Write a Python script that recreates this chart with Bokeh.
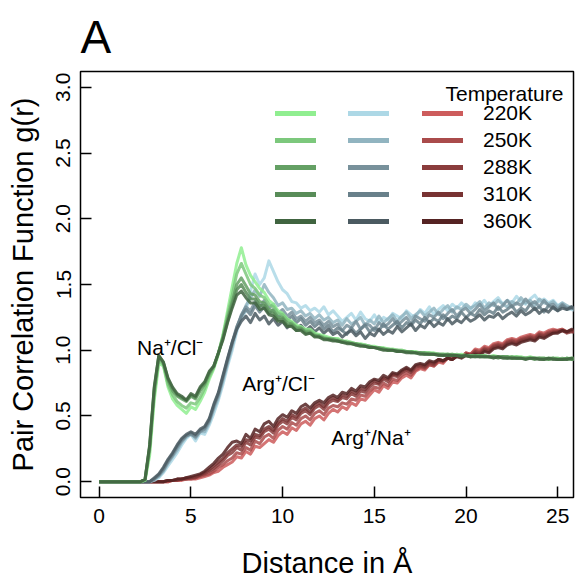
import numpy as np
from bokeh.plotting import figure
from bokeh.models import Range1d, FixedTicker, Legend, LegendItem, Label, ColumnDataSource
from bokeh.embed import file_html
from bokeh.resources import INLINE

FONT = "Liberation Sans"

# distance grid (Angstrom), 0.25 spacing
R = [round(i * 0.25, 2) for i in range(105)]

TEMPS = ["220K", "250K", "288K", "310K", "360K"]

# Na+/Cl- pair correlation
NC220 = [0,0,0,0,0,0,0,0,0,0,
 0.01,0.20,0.62,0.90,0.88,0.72,0.63,0.58,0.55,0.52,
 0.57,0.55,0.61,0.68,0.78,0.86,0.97,1.12,1.30,1.48,
 1.66,1.78,1.65,1.57,1.52,1.47,1.44,1.38,1.35,1.30,
 1.28,1.24,1.22,1.19,1.18,1.16,1.16,1.13,1.12,1.11,
 1.10,1.09,1.09,1.07,1.07,1.06,1.05,1.05,1.04,1.03,
 1.03,1.02,1.02,1.01,1.01,1.00,1.00,0.99,0.99,0.99,
 0.98,0.98,0.98,0.98,0.97,0.97,0.97,0.97,0.96,0.97,
 0.96,0.96,0.96,0.96,0.96,0.95,0.96,0.95,0.95,0.95,
 0.95,0.95,0.95,0.94,0.95,0.94,0.94,0.94,0.94,0.94,
 0.94,0.93,0.94,0.94,0.94]
NC250 = [0,0,0,0,0,0,0,0,0,0,
 0.01,0.24,0.66,0.93,0.89,0.74,0.66,0.61,0.58,0.56,
 0.60,0.59,0.64,0.71,0.80,0.87,0.98,1.11,1.27,1.42,
 1.58,1.66,1.58,1.50,1.47,1.42,1.40,1.35,1.33,1.28,
 1.27,1.23,1.21,1.18,1.17,1.15,1.15,1.12,1.11,1.10,
 1.09,1.09,1.08,1.07,1.06,1.06,1.05,1.04,1.04,1.03,
 1.02,1.02,1.01,1.01,1.00,1.00,1.00,0.99,0.99,0.98,
 0.98,0.98,0.98,0.97,0.97,0.97,0.97,0.96,0.97,0.96,
 0.96,0.96,0.96,0.95,0.96,0.95,0.95,0.95,0.95,0.95,
 0.94,0.95,0.94,0.94,0.94,0.94,0.94,0.94,0.93,0.94,
 0.94,0.93,0.94,0.93,0.93]
NC288 = [0,0,0,0,0,0,0,0,0,0,
 0.02,0.26,0.69,0.95,0.90,0.77,0.69,0.65,0.63,0.61,
 0.65,0.63,0.69,0.74,0.82,0.88,0.98,1.10,1.24,1.37,
 1.50,1.55,1.49,1.43,1.42,1.37,1.36,1.31,1.30,1.25,
 1.25,1.21,1.20,1.17,1.17,1.14,1.14,1.11,1.11,1.09,
 1.09,1.08,1.07,1.07,1.06,1.05,1.05,1.04,1.03,1.03,
 1.02,1.02,1.01,1.00,1.00,1.00,0.99,0.99,0.99,0.98,
 0.98,0.98,0.97,0.97,0.97,0.97,0.96,0.97,0.96,0.96,
 0.96,0.96,0.95,0.96,0.95,0.95,0.95,0.95,0.95,0.94,
 0.95,0.94,0.94,0.94,0.94,0.94,0.94,0.93,0.94,0.94,
 0.93,0.94,0.93,0.94,0.94]
NC310 = [0,0,0,0,0,0,0,0,0,0,
 0.02,0.27,0.71,0.96,0.91,0.78,0.71,0.66,0.64,0.62,
 0.66,0.64,0.71,0.75,0.83,0.88,0.98,1.09,1.22,1.34,
 1.46,1.50,1.44,1.39,1.39,1.34,1.34,1.29,1.28,1.23,
 1.24,1.19,1.19,1.15,1.16,1.13,1.13,1.11,1.10,1.09,
 1.08,1.08,1.07,1.06,1.06,1.05,1.04,1.04,1.03,1.02,
 1.02,1.01,1.01,1.00,1.00,0.99,0.99,0.99,0.98,0.98,
 0.98,0.97,0.97,0.97,0.97,0.96,0.97,0.96,0.96,0.96,
 0.96,0.95,0.96,0.95,0.95,0.95,0.95,0.94,0.95,0.95,
 0.94,0.94,0.94,0.94,0.94,0.93,0.94,0.94,0.93,0.94,
 0.93,0.93,0.94,0.93,0.93]
NC360 = [0,0,0,0,0,0,0,0,0,0,
 0.02,0.28,0.72,0.96,0.91,0.79,0.72,0.67,0.65,0.62,
 0.67,0.65,0.72,0.76,0.84,0.88,0.98,1.08,1.21,1.32,
 1.42,1.45,1.40,1.36,1.36,1.31,1.32,1.27,1.26,1.22,
 1.22,1.18,1.18,1.15,1.15,1.12,1.13,1.10,1.10,1.08,
 1.08,1.07,1.07,1.06,1.05,1.05,1.04,1.03,1.03,1.02,
 1.02,1.01,1.00,1.00,1.00,0.99,0.99,0.98,0.98,0.98,
 0.97,0.97,0.97,0.97,0.96,0.96,0.96,0.96,0.96,0.95,
 0.96,0.95,0.95,0.95,0.95,0.95,0.94,0.95,0.94,0.94,
 0.94,0.94,0.94,0.93,0.94,0.94,0.93,0.93,0.94,0.93,
 0.93,0.93,0.93,0.94,0.93]

# Arg+/Cl- pair correlation
AC220 = [0,0,0,0,0,0,0,0,0,0,
 0,0,0.01,0.03,0.07,0.12,0.17,0.22,0.28,0.33,
 0.36,0.31,0.37,0.36,0.43,0.52,0.62,0.74,0.88,1.00,
 1.14,1.25,1.30,1.45,1.58,1.50,1.55,1.68,1.60,1.52,
 1.46,1.43,1.37,1.36,1.32,1.34,1.30,1.32,1.29,1.33,
 1.27,1.30,1.26,1.22,1.25,1.28,1.23,1.29,1.24,1.22,
 1.27,1.21,1.25,1.23,1.28,1.26,1.24,1.30,1.27,1.25,
 1.31,1.28,1.33,1.27,1.31,1.34,1.30,1.35,1.32,1.36,
 1.33,1.31,1.36,1.34,1.38,1.33,1.37,1.40,1.35,1.38,
 1.36,1.41,1.37,1.35,1.39,1.42,1.37,1.39,1.36,1.38,
 1.34,1.36,1.32,1.31,1.30]
AC250 = [0,0,0,0,0,0,0,0,0,0,
 0,0,0.02,0.04,0.08,0.14,0.19,0.24,0.30,0.34,
 0.37,0.33,0.38,0.38,0.45,0.55,0.64,0.77,0.90,1.03,
 1.16,1.26,1.34,1.40,1.46,1.41,1.50,1.44,1.40,1.34,
 1.36,1.31,1.32,1.28,1.30,1.26,1.28,1.24,1.27,1.23,
 1.25,1.21,1.23,1.19,1.24,1.20,1.22,1.25,1.19,1.23,
 1.20,1.26,1.21,1.24,1.27,1.22,1.26,1.29,1.24,1.27,
 1.30,1.26,1.29,1.32,1.27,1.31,1.34,1.29,1.33,1.31,
 1.35,1.32,1.34,1.37,1.32,1.36,1.34,1.38,1.35,1.33,
 1.37,1.35,1.40,1.36,1.38,1.34,1.39,1.36,1.35,1.37,
 1.33,1.36,1.34,1.32,1.31]
AC288 = [0,0,0,0,0,0,0,0,0,0,
 0,0,0.02,0.05,0.09,0.15,0.20,0.26,0.31,0.35,
 0.36,0.34,0.38,0.40,0.46,0.57,0.66,0.79,0.92,1.05,
 1.17,1.27,1.33,1.30,1.37,1.33,1.38,1.32,1.35,1.28,
 1.31,1.26,1.29,1.24,1.26,1.22,1.25,1.21,1.23,1.19,
 1.22,1.18,1.20,1.15,1.19,1.17,1.22,1.16,1.20,1.19,
 1.15,1.21,1.18,1.20,1.24,1.19,1.22,1.25,1.20,1.26,
 1.24,1.22,1.27,1.25,1.29,1.24,1.28,1.31,1.26,1.30,
 1.32,1.28,1.31,1.35,1.30,1.33,1.36,1.31,1.34,1.38,
 1.33,1.36,1.34,1.39,1.35,1.37,1.33,1.38,1.34,1.35,
 1.31,1.35,1.32,1.33,1.32]
AC310 = [0,0,0,0,0,0,0,0,0,0,
 0,0,0.02,0.05,0.10,0.16,0.21,0.27,0.32,0.35,
 0.37,0.35,0.39,0.41,0.47,0.58,0.67,0.80,0.93,1.06,
 1.18,1.26,1.31,1.27,1.34,1.29,1.33,1.28,1.31,1.25,
 1.28,1.23,1.26,1.21,1.24,1.19,1.22,1.18,1.21,1.16,
 1.19,1.14,1.17,1.15,1.12,1.17,1.13,1.16,1.19,1.14,
 1.17,1.15,1.20,1.16,1.19,1.22,1.17,1.21,1.19,1.23,
 1.20,1.25,1.21,1.24,1.22,1.27,1.23,1.26,1.24,1.29,
 1.25,1.28,1.26,1.31,1.27,1.30,1.28,1.33,1.29,1.31,
 1.34,1.29,1.32,1.30,1.35,1.31,1.33,1.29,1.34,1.32,
 1.30,1.34,1.31,1.32,1.31]
AC360 = [0,0,0,0,0,0,0,0,0,0,
 0,0,0.03,0.06,0.11,0.17,0.22,0.28,0.33,0.36,
 0.38,0.36,0.40,0.42,0.48,0.59,0.68,0.81,0.94,1.06,
 1.16,1.22,1.26,1.21,1.28,1.23,1.26,1.20,1.24,1.19,
 1.22,1.17,1.21,1.16,1.19,1.15,1.18,1.14,1.17,1.13,
 1.16,1.12,1.14,1.10,1.13,1.15,1.11,1.14,1.09,1.13,
 1.11,1.16,1.12,1.15,1.13,1.18,1.14,1.17,1.20,1.15,
 1.19,1.17,1.22,1.18,1.21,1.19,1.24,1.20,1.23,1.21,
 1.25,1.22,1.24,1.27,1.23,1.26,1.25,1.28,1.24,1.27,
 1.29,1.26,1.30,1.27,1.29,1.32,1.28,1.31,1.29,1.33,
 1.30,1.32,1.31,1.33,1.31]

# Arg+/Na+ pair correlation
AN220 = [0,0,0,0,0,0,0,0,0,0,
 0,0,0,0,0.00,0.00,0.01,0.01,0.01,0.02,
 0.02,0.02,0.03,0.04,0.05,0.07,0.08,0.11,0.13,0.15,
 0.19,0.18,0.23,0.21,0.27,0.26,0.29,0.32,0.30,0.35,
 0.38,0.36,0.41,0.39,0.44,0.46,0.43,0.48,0.50,0.47,
 0.52,0.55,0.53,0.57,0.55,0.60,0.58,0.63,0.62,0.66,
 0.70,0.68,0.73,0.71,0.76,0.75,0.79,0.81,0.79,0.84,
 0.86,0.85,0.89,0.88,0.91,0.90,0.94,0.93,0.96,0.95,
 0.98,0.97,1.01,1.00,1.03,1.02,1.05,1.06,1.05,1.08,
 1.09,1.08,1.10,1.11,1.12,1.11,1.14,1.13,1.15,1.16,
 1.15,1.16,1.14,1.15,1.14]
AN250 = [0,0,0,0,0,0,0,0,0,0,
 0,0,0,0,0.00,0.00,0.01,0.01,0.02,0.02,
 0.02,0.03,0.04,0.05,0.06,0.08,0.11,0.13,0.16,0.18,
 0.22,0.21,0.26,0.24,0.31,0.29,0.34,0.36,0.33,0.39,
 0.42,0.40,0.45,0.43,0.48,0.50,0.47,0.52,0.54,0.51,
 0.56,0.58,0.57,0.60,0.59,0.63,0.62,0.66,0.65,0.69,
 0.72,0.71,0.75,0.73,0.78,0.77,0.81,0.83,0.81,0.85,
 0.87,0.86,0.89,0.88,0.92,0.91,0.94,0.93,0.96,0.95,
 0.98,0.97,1.00,0.99,1.02,1.01,1.04,1.05,1.04,1.07,
 1.08,1.07,1.09,1.10,1.11,1.10,1.13,1.12,1.14,1.15,
 1.15,1.16,1.14,1.15,1.13]
AN288 = [0,0,0,0,0,0,0,0,0,0,
 0,0,0,0,0.00,0.01,0.01,0.01,0.02,0.02,
 0.03,0.03,0.05,0.06,0.08,0.10,0.13,0.16,0.20,0.22,
 0.26,0.24,0.30,0.28,0.34,0.33,0.38,0.40,0.37,0.43,
 0.46,0.44,0.49,0.47,0.52,0.54,0.51,0.56,0.58,0.55,
 0.60,0.62,0.61,0.64,0.63,0.67,0.65,0.69,0.68,0.72,
 0.75,0.74,0.78,0.76,0.81,0.80,0.83,0.85,0.83,0.87,
 0.88,0.87,0.90,0.89,0.93,0.92,0.94,0.93,0.96,0.95,
 0.97,0.96,0.99,0.98,1.01,1.00,1.03,1.04,1.03,1.06,
 1.07,1.06,1.08,1.09,1.10,1.09,1.12,1.11,1.13,1.14,
 1.14,1.15,1.13,1.14,1.13]
AN310 = [0,0,0,0,0,0,0,0,0,0,
 0,0,0,0,0.00,0.01,0.01,0.02,0.02,0.03,
 0.03,0.04,0.05,0.07,0.09,0.12,0.15,0.18,0.22,0.25,
 0.28,0.27,0.32,0.31,0.36,0.35,0.40,0.42,0.39,0.45,
 0.48,0.46,0.51,0.49,0.54,0.56,0.53,0.58,0.60,0.57,
 0.62,0.64,0.62,0.66,0.65,0.69,0.67,0.71,0.70,0.74,
 0.77,0.75,0.79,0.78,0.82,0.81,0.84,0.86,0.84,0.88,
 0.89,0.88,0.91,0.90,0.93,0.92,0.94,0.93,0.96,0.95,
 0.97,0.96,0.98,0.97,1.00,0.99,1.02,1.03,1.02,1.05,
 1.06,1.05,1.07,1.08,1.09,1.08,1.11,1.10,1.12,1.13,
 1.14,1.15,1.14,1.15,1.14]
AN360 = [0,0,0,0,0,0,0,0,0,0,
 0,0,0,0,0.00,0.01,0.01,0.02,0.02,0.03,
 0.04,0.05,0.06,0.08,0.11,0.14,0.18,0.21,0.26,0.30,
 0.31,0.29,0.36,0.33,0.40,0.38,0.44,0.46,0.42,0.48,
 0.51,0.49,0.54,0.52,0.57,0.59,0.56,0.60,0.62,0.60,
 0.64,0.66,0.64,0.68,0.67,0.71,0.69,0.73,0.72,0.76,
 0.78,0.77,0.81,0.79,0.83,0.82,0.85,0.87,0.85,0.89,
 0.90,0.89,0.92,0.91,0.93,0.92,0.94,0.93,0.95,0.94,
 0.96,0.95,0.97,0.96,0.99,0.98,1.01,1.02,1.01,1.04,
 1.05,1.04,1.06,1.07,1.08,1.07,1.10,1.09,1.11,1.13,
 1.13,1.15,1.14,1.16,1.15]

GREENS = ["#90EE90", "#7CC87C", "#64A064", "#588C58", "#406440"]
BLUES = ["#ADD8E6", "#91B4C0", "#78919B", "#68808A", "#4B5A61"]
REDS = ["#CD5C5C", "#AA4B4B", "#8A3C3C", "#783232", "#552323"]

XTICKS = [0, 5, 10, 15, 20, 25]
YTICKS = [0.0, 0.5, 1.0, 1.5, 2.0, 2.5, 3.0]
YLABELS = ["0.0", "0.5", "1.0", "1.5", "2.0", "2.5", "3.0"]

p = figure(width=577, height=582, output_backend="svg", toolbar_location=None,
           x_range=Range1d(-1.02, 25.86), y_range=Range1d(-0.12, 3.12),
           min_border_left=80, min_border_right=4, min_border_top=71,
           min_border_bottom=85, background_fill_color="white",
           border_fill_color="white")

p.title.text = "A"
p.title.text_font = FONT
p.title.text_font_size = "46px"
p.title.text_font_style = "normal"
p.title.text_color = "black"
p.title.align = "left"
p.title.vertical_align = "top"
p.title.standoff = 14

p.xgrid.visible = False
p.ygrid.visible = False
p.outline_line_color = "black"
p.outline_line_width = 1.5
p.outline_line_alpha = 1.0

for ax in (p.xaxis[0], p.yaxis[0]):
    ax.axis_line_color = None
    ax.major_tick_in = 11
    ax.major_tick_out = 0
    ax.major_tick_line_width = 1.5
    ax.major_tick_line_color = "black"
    ax.minor_tick_line_color = None
    ax.major_label_text_font = FONT
    ax.major_label_text_font_size = "21px"
    ax.major_label_text_color = "black"
    ax.axis_label_text_font = FONT
    ax.axis_label_text_font_size = "29px"
    ax.axis_label_text_font_style = "normal"
    ax.axis_label_text_color = "black"

p.xaxis.ticker = FixedTicker(ticks=XTICKS)
p.yaxis.ticker = FixedTicker(ticks=YTICKS)
p.yaxis.major_label_overrides = {t: l for t, l in zip(YTICKS, YLABELS)}
p.yaxis.major_label_orientation = "vertical"
p.xaxis.major_label_standoff = 11
p.yaxis.major_label_standoff = 10
p.xaxis.axis_label = "Distance in Å"
p.yaxis.axis_label = "Pair Correlation Function g(r)"
p.xaxis.axis_label_standoff = 21
p.yaxis.axis_label_standoff = 15

groups = [
    (REDS, [AN220, AN250, AN288, AN310, AN360]),
    (BLUES, [AC220, AC250, AC288, AC310, AC360]),
    (GREENS, [NC220, NC250, NC288, NC310, NC360]),
]
for colors, series in groups:
    for c, ys in zip(colors, series):
        p.line(R, ys, line_color=c, line_width=3, line_alpha=0.85, line_join="round")

# legend keys (renderers with no visible points, drawn only in the legends)
def legend_col(colors, labels, x):
    rends = []
    for c in colors:
        src = ColumnDataSource(data=dict(x=[float("nan")], y=[float("nan")]))
        rends.append(p.line("x", "y", source=src, line_color=c, line_width=5, line_cap="round"))
    items = [LegendItem(label=l, renderers=[r]) for l, r in zip(labels, rends)]
    lg = Legend(items=items, location=(x, 264), orientation="vertical",
                glyph_width=41, glyph_height=24, label_height=24, label_width=0,
                label_standoff=20, spacing=3, padding=0, margin=0,
                background_fill_alpha=0, border_line_color=None,
                label_text_font=FONT, label_text_font_size="21px",
                label_text_color="black")
    p.add_layout(lg)

legend_col(GREENS, [" "] * 5, 195)
legend_col(BLUES, [" "] * 5, 268)
legend_col(REDS, TEMPS, 342)

p.add_layout(Label(x=25.31, y=2.955, text="Temperature", text_align="right",
                   text_baseline="alphabetic", text_font=FONT, text_font_size="21px",
                   text_color="black"))

ann = [("Na⁺/Cl⁻", 2.06, 1.02), ("Arg⁺/Cl⁻", 7.8, 0.745), ("Arg⁺/Na⁺", 12.65, 0.334)]
for t, x, y in ann:
    p.add_layout(Label(x=x, y=y, text=t, text_align="left", text_baseline="alphabetic",
                       text_font=FONT, text_font_size="21px", text_color="black"))

open("out.html", "w").write(file_html(p, INLINE))
